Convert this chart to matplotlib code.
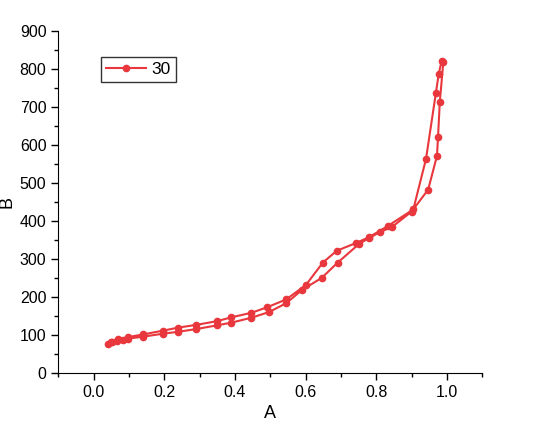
import matplotlib.pyplot as plt
from matplotlib.ticker import MultipleLocator

plt.rcParams['font.family'] = ['Liberation Sans', 'DejaVu Sans']

# adsorption branch (going up)
ads_x = [0.042, 0.053, 0.067, 0.084, 0.098, 0.14, 0.197, 0.24, 0.29, 0.35, 0.39, 0.447,
         0.497, 0.545, 0.59, 0.646, 0.691, 0.75, 0.78, 0.81, 0.845, 0.9, 0.947, 0.972,
         0.975, 0.98, 0.99]
ads_y = [76, 80, 84, 87, 90, 95, 103, 108, 115, 125, 132, 145,
         160, 183, 218, 250, 290, 338, 355, 370, 384, 424, 482, 571,
         621, 713, 818]

# desorption branch (coming down)
des_x = [0.985, 0.977, 0.969, 0.941, 0.905, 0.834, 0.78, 0.744, 0.688, 0.649, 0.601,
         0.545, 0.49, 0.447, 0.39, 0.35, 0.29, 0.24, 0.197, 0.14, 0.098, 0.07, 0.05]
des_y = [820, 787, 737, 563, 430, 387, 357, 342, 321, 290, 231,
         193, 172, 158, 146, 136, 126, 119, 111, 101, 94, 88, 80]

x = ads_x + des_x
y = ads_y + des_y

fig = plt.figure(figsize=(5.34, 4.47), dpi=100)
ax = fig.add_axes([0.109, 0.166, 0.794, 0.765])
ax.plot(x, y, marker='o', markersize=4.5, linestyle='-', linewidth=1.5,
        color='#e8383d', label='30')

ax.set_xlim(-0.1, 1.1)
ax.set_ylim(0, 900)
ax.xaxis.set_minor_locator(MultipleLocator(0.1))
ax.yaxis.set_major_locator(MultipleLocator(100))
ax.yaxis.set_minor_locator(MultipleLocator(50))
ax.set_xticks([0.0, 0.2, 0.4, 0.6, 0.8, 1.0])
ax.set_xticklabels(['0.0', '0.2', '0.4', '0.6', '0.8', '1.0'])
ax.tick_params(which='major', direction='out', length=5, width=1, labelsize=11.5)
ax.tick_params(which='minor', direction='out', length=3, width=1)
ax.spines['top'].set_visible(False)
ax.spines['right'].set_visible(False)

ax.set_xlabel('A', fontsize=13)
ax.set_ylabel('B', fontsize=13)
ax.yaxis.set_label_coords(-0.1, 0.5)

leg = ax.legend(loc='upper left', bbox_to_anchor=(0.08, 0.95), fontsize=12.5,
                frameon=True, fancybox=False, edgecolor='black',
                handlelength=2.3, borderpad=0.3, handletextpad=0.3)
leg.get_frame().set_linewidth(1)

plt.savefig('out.png', format='png')
